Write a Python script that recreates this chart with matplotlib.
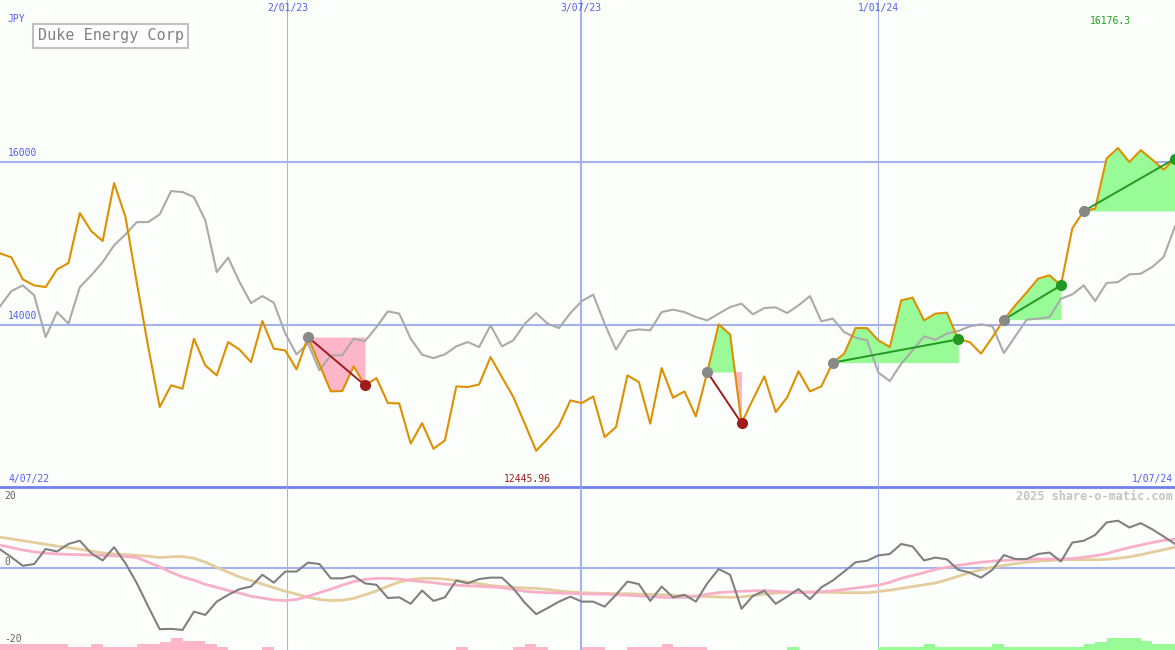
import matplotlib
matplotlib.use('Agg')
import matplotlib.pyplot as plt
import numpy as np

# weekly closes, Duke Energy Corp (JPY)
price = [14879, 14829, 14558, 14484, 14463, 14681, 14759, 15375, 15153, 15030,
         15745, 15326, 14509, 13720, 12985, 13252, 13211, 13827, 13498, 13375,
         13786, 13692, 13539, 14044, 13704, 13683, 13449, 13847, 13511, 13178,
         13182, 13486, 13252, 13342, 13034, 13030, 12534, 12787, 12470, 12574,
         13240, 13231, 13264, 13601, 13354, 13108, 12780, 12445.96, 12595, 12759,
         13067, 13034, 13116, 12615, 12738, 13375, 13293, 12780, 13465, 13100,
         13178, 12870, 13416, 14004, 13880, 12787, 13079, 13363, 12923, 13104,
         13425, 13178, 13240, 13532, 13643, 13958, 13958, 13807, 13724, 14299,
         14333, 14053, 14136, 14148, 13819, 13786, 13643, 13847, 14062, 14238,
         14398, 14567, 14608, 14484, 15187, 15400, 15429, 16046, 16176.3, 16004,
         16150, 16033, 15910, 16046]

# grey comparison line
compare = [14225, 14414, 14484, 14361, 13847, 14155, 14012, 14463, 14608, 14771,
           14977, 15113, 15264, 15264, 15359, 15646, 15634, 15572, 15285, 14648,
           14826, 14525, 14266, 14352, 14271, 13893, 13634, 13770, 13437, 13622,
           13622, 13827, 13798, 13970, 14164, 14136, 13827, 13630, 13588, 13634,
           13733, 13786, 13724, 13991, 13733, 13807, 14012, 14143, 14012, 13958,
           14143, 14291, 14370, 14012, 13692, 13921, 13942, 13930, 14155, 14185,
           14155, 14094, 14053, 14136, 14217, 14259, 14127, 14205, 14213, 14143,
           14238, 14352, 14041, 14074, 13909, 13840, 13807, 13409, 13305, 13519,
           13683, 13856, 13815, 13889, 13921, 13979, 14004, 13979, 13650, 13856,
           14062, 14074, 14094, 14320, 14373, 14484, 14291, 14513, 14525, 14620,
           14628, 14710, 14833, 15211]

# lower panel
momentum = [5.1, 2.9, 0.5, 1.0, 5.2, 4.5, 6.6, 7.5, 4.0, 2.0,
            5.7, 1.2, -4.4, -10.9, -17.2, -17.1, -17.4, -12.3, -13.2, -9.5,
            -7.6, -6.0, -5.3, -2.0, -4.2, -1.1, -1.1, 1.4, 1.0, -3.0,
            -3.0, -2.3, -4.4, -4.8, -8.5, -8.3, -10.1, -6.4, -9.3, -8.3,
            -3.6, -4.4, -3.2, -2.8, -2.8, -5.8, -9.8, -13.0, -11.3, -9.5,
            -8.1, -9.5, -9.5, -10.9, -7.6, -3.9, -4.6, -9.3, -5.3, -8.3,
            -7.6, -9.5, -4.4, -0.4, -2.0, -11.5, -7.9, -6.5, -10.1, -8.1,
            -6.0, -8.8, -5.5, -3.6, -1.1, 1.5, 1.9, 3.4, 3.8, 6.6,
            5.9, 2.0, 2.8, 2.3, -0.6, -1.4, -2.8, -0.6, 3.5, 2.4,
            2.4, 3.8, 4.2, 1.7, 7.0, 7.5, 9.1, 12.6, 13.1, 11.2,
            12.4, 10.7, 8.7, 6.6]

mom_fast = [6.3, 5.6, 4.9, 4.4, 4.0, 3.8, 3.7, 3.6, 3.5, 3.4,
            3.3, 3.1, 2.8, 1.5, 0.2, -1.3, -2.6, -3.5, -4.7, -5.5,
            -6.4, -7.1, -8.0, -8.5, -9.0, -9.2, -8.9, -8.0, -7.0, -6.0,
            -4.9, -3.9, -3.3, -3.0, -3.0, -3.2, -3.6, -3.9, -4.2, -4.6,
            -4.9, -5.1, -5.2, -5.4, -5.6, -6.1, -6.6, -6.9, -7.0, -7.1,
            -7.2, -7.3, -7.4, -7.4, -7.6, -7.7, -7.9, -8.1, -8.3, -8.4,
            -8.3, -8.0, -7.4, -7.0, -6.8, -6.6, -6.5, -6.4, -6.6, -6.8,
            -7.0, -6.9, -6.7, -6.5, -6.1, -5.7, -5.3, -4.9, -4.1, -3.0,
            -2.2, -1.4, -0.5, 0.1, 0.6, 1.1, 1.5, 1.8, 2.0, 2.2,
            2.3, 2.4, 2.4, 2.4, 2.5, 2.9, 3.3, 3.9, 4.8, 5.6,
            6.3, 7.0, 7.6, 7.9]

mom_slow = [8.5, 8.0, 7.5, 7.0, 6.5, 6.0, 5.6, 5.1, 4.6, 4.1,
            3.8, 3.6, 3.4, 3.2, 2.8, 3.0, 3.1, 2.6, 1.5, 0.1,
            -1.3, -2.6, -3.6, -4.6, -5.6, -6.6, -7.4, -8.3, -8.9, -9.2,
            -9.1, -8.6, -7.6, -6.5, -5.2, -4.0, -3.3, -3.0, -3.0, -3.2,
            -3.6, -4.0, -4.5, -5.0, -5.3, -5.5, -5.7, -5.8, -6.1, -6.5,
            -6.8, -7.0, -7.1, -7.2, -7.3, -7.3, -7.4, -7.5, -7.6, -7.7,
            -7.9, -8.0, -8.1, -8.2, -8.3, -8.2, -7.8, -7.4, -7.1, -6.9,
            -6.8, -6.8, -6.9, -6.9, -7.0, -7.0, -7.0, -6.7, -6.3, -5.8,
            -5.3, -4.8, -4.3, -3.4, -2.4, -1.4, -0.6, 0.1, 0.6, 1.1,
            1.5, 1.8, 2.0, 2.2, 2.2, 2.2, 2.2, 2.3, 2.6, 3.0,
            3.6, 4.3, 5.0, 5.7]

# strength bars at the bottom (negative = pink, positive = green)
strength = [-1.7, -1.7, -1.7, -1.7, -1.7, -1.7, -0.75, -0.75, -1.7, -0.75,
            -0.75, -0.75, -1.7, -1.7, -2.3, -3.3, -2.5, -2.5, -1.7, -0.75,
            0, 0, 0, -0.75, 0, 0, 0, 0, 0, 0,
            0, 0, 0, 0, 0, 0, 0, 0, 0, 0,
            -0.75, 0, 0, 0, 0, -0.75, -1.7, -0.75, 0, 0,
            0, -0.75, -0.75, 0, 0, -0.75, -0.75, -0.75, -1.7, -0.75,
            -0.75, -0.75, 0, 0, 0, 0, 0, 0, 0, 0.75,
            0, 0, 0, 0, 0, 0, 0, 0.75, 0.75, 0.75,
            0.75, 1.7, 0.75, 0.75, 0.75, 0.75, 0.75, 1.7, 0.75, 0.75,
            0.75, 0.75, 0.75, 0.75, 0.75, 1.7, 2.3, 3.3, 3.3, 3.3,
            2.5, 1.7, 1.7, 0]

buys = [27, 62, 73, 88, 95]
sells = [32, 65, 84, 93, 103]

date_pos = [25.2, 50.9, 77.0]
date_labels = ['2/01/23', '3/07/23', '1/01/24']
date_widths = [0.75, 1.5, 0.75]
price_grid = [14000, 16000]
start_label, end_label = '4/07/22', '1/07/24'

bg = '#fcfefc'
grid_c = '#a4b2f0'
blue_txt = '#5060f0'
pink = '#ffb6c8'
green = '#98fb98'
mono = 'DejaVu Sans Mono'

x = np.arange(len(price))
price = np.array(price)

fig = plt.figure(figsize=(11.75, 6.5), dpi=100, facecolor=bg)
ax = fig.add_axes([0, 163 / 650, 1, 487 / 650])
ax2 = fig.add_axes([0, 0, 1, 163 / 650])
for a in (ax, ax2):
    a.set_xlim(0, len(price) - 1)
    a.axis('off')
ax.set_ylim(12000, 18000)
ax2.set_ylim(-23, 22.5)

# grid
for d, w in zip(date_pos, date_widths):
    ax.axvline(d, color=grid_c, lw=w, zorder=1)
    ax2.axvline(d, color=grid_c, lw=w, zorder=1)
for g in price_grid:
    ax.axhline(g, color=grid_c, lw=1.5, zorder=1)
    ax.text(0.007, g + 50, str(g), transform=ax.get_yaxis_transform(),
            ha='left', va='bottom', fontsize=7, color=blue_txt, family=mono)
ax.axhline(12000, color='#7080ee', lw=2, zorder=6, clip_on=False)
ax2.axhline(0, color=grid_c, lw=1.5, zorder=1)

# trades
for b, s in zip(buys, sells):
    xs = x[b:s + 1]
    ys = price[b:s + 1]
    lvl = price[b]
    ax.fill_between(xs, lvl, ys, where=ys >= lvl, interpolate=True, color=green, lw=0, zorder=2)
    ax.fill_between(xs, lvl, ys, where=ys <= lvl, interpolate=True, color=pink, lw=0, zorder=2)

ax.plot(x, compare, color='#aaaaaa', lw=1.5, zorder=3)
ax.plot(x, price, color='#dd9000', lw=1.5, zorder=4)

for b, s in zip(buys, sells):
    c = '#229922' if price[s] > price[b] else '#a01c1c'
    ax.plot([b, s], [price[b], price[s]], color=c, lw=1.4, zorder=5)
    ax.plot(b, price[b], 'o', color='#888888', ms=7, zorder=6)
    ax.plot(s, price[s], 'o', color=c, ms=7, zorder=6)

# labels
ax.text(0.006, 0.955, 'JPY', transform=ax.transAxes, fontsize=7, color=blue_txt, family=mono)
ax.text(0.032, 0.927, 'Duke Energy Corp', transform=ax.transAxes, fontsize=10.9,
        color='#808080', family=mono, va='center',
        bbox=dict(boxstyle='square,pad=0.3', fc='#fdfefd', ec='#c0c0c0', lw=1.5))
for d, lab in zip(date_pos, date_labels):
    ax.text(d, 17900, lab, ha='center', va='center', fontsize=7, color=blue_txt, family=mono)
ax.text(0.007, 12100, start_label, transform=ax.get_yaxis_transform(),
        ha='left', va='center', fontsize=7, color=blue_txt, family=mono)
ax.text(0.998, 12100, end_label, transform=ax.get_yaxis_transform(),
        ha='right', va='center', fontsize=7, color=blue_txt, family=mono)
imax, imin = int(np.argmax(price)), int(np.argmin(price))
ax.text(imax - 0.7, 17740, str(price[imax]), ha='center', va='center',
        fontsize=7, color='#20a020', family=mono)
ax.text(imin - 0.8, 12100, str(price[imin]), ha='center', va='center',
        fontsize=7, color='#a01c1c', family=mono)

# lower panel
sb = np.array(strength)
ax2.bar(x, np.abs(sb), bottom=-23, width=1, align='edge',
        color=[green if v > 0 else pink for v in sb], lw=0, zorder=1)
ax2.plot(x, mom_slow, color='#e4cc9c', lw=2, zorder=2)
ax2.plot(x, mom_fast, color='#f8b0c8', lw=2, zorder=2)
ax2.plot(x, momentum, color='#808080', lw=1.5, zorder=3)
for v in (20, 0, -20):
    ax2.text(0.004, v + (1.5 if v == 0 else 0), str(v), transform=ax2.get_yaxis_transform(),
             ha='left', va='center', fontsize=7, color='#606060', family=mono)
ax2.text(0.998, 19.8, '2025 share-o-matic.com', transform=ax2.get_yaxis_transform(),
         ha='right', va='center', fontsize=8.5, color='#c4c4c4', family=mono, fontweight='bold')

fig.savefig('out.png', dpi=100, facecolor=bg)
